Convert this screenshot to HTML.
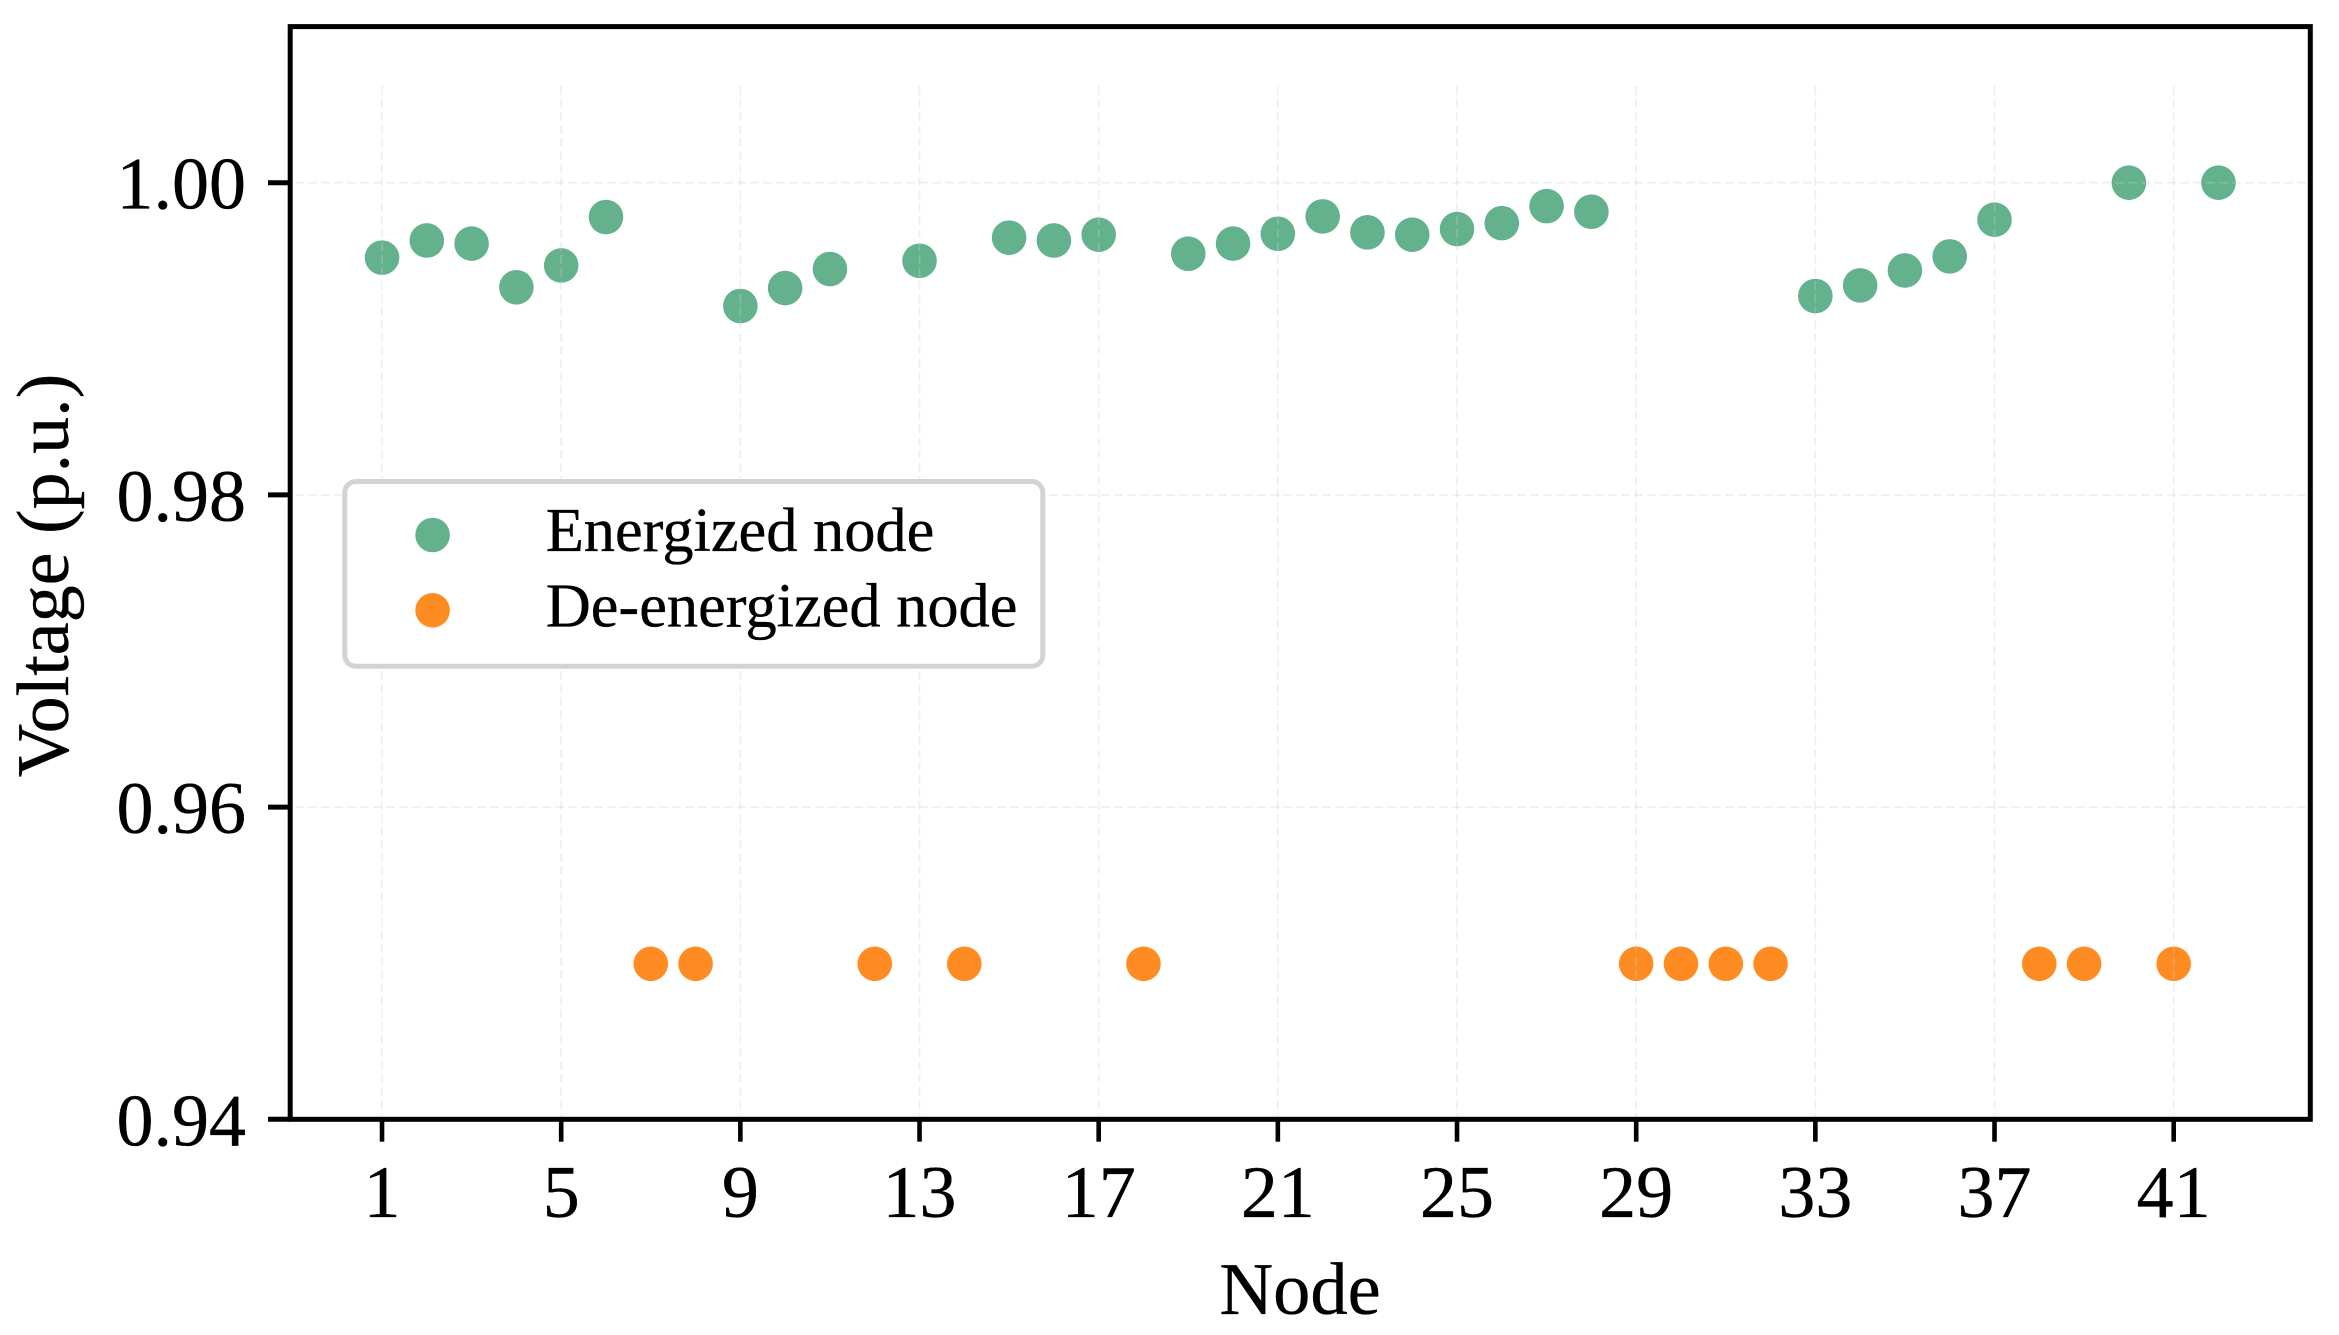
<!DOCTYPE html>
<html lang="en">
<head>
<meta charset="utf-8">
<title>Node voltage chart</title>
<style>
  html, body { margin: 0; padding: 0; background: #fff; }
  body { width: 2339px; height: 1335px; overflow: hidden; }
  svg { display: block; }
  text { font-family: "Liberation Serif", "Times New Roman", serif; fill: #000; stroke: #000; stroke-width: 0.35px; }
</style>
</head>
<body>
<svg id="chart" xmlns="http://www.w3.org/2000/svg" width="2339" height="1335" viewBox="0 0 2339 1335">
  <rect x="0" y="0" width="2339" height="1335" fill="#ffffff"/>
  <g id="series-energized"></g>
  <g id="series-deenergized"></g>
  <g id="grid"></g>
  <rect x="290.2" y="26.6" width="2020.1" height="1092.7" fill="none" stroke="#000" stroke-width="5"/>
  <g id="x-axis"></g>
  <g id="y-axis"></g>
  <text x="1300" y="1314" font-size="74.5" text-anchor="middle">Node</text>
  <text transform="translate(68,575.5) rotate(-90)" font-size="74" text-anchor="middle">Voltage (p.u.)</text>
  <g>
    <rect x="344.8" y="481.5" width="698" height="184.7" rx="11" ry="11" fill="#ffffff" stroke="#d3d3d3" stroke-width="5"/>
    <circle cx="432.6" cy="535" r="17.3" fill="#64B18E"/>
    <text x="545.7" y="551" font-size="62.4">Energized node</text>
    <circle cx="432.6" cy="610.3" r="17.3" fill="#FF8C22"/>
    <text x="545.7" y="626.7" font-size="62.4">De-energized node</text>
  </g>
</svg>
<script>
const energizedNodes = [1,2,3,4,5,6,9,10,11,13,15,16,17,19,20,21,22,23,24,25,26,27,28,33,34,35,36,37,40,42];
const energizedVoltages = [0.9952,0.9963,0.9961,0.9933,0.9947,0.9978,0.9921,0.99325,0.99447,0.9950,0.99648,0.9963,0.99667,0.99545,0.9961,0.99673,0.99784,0.99682,0.99667,0.99703,0.99741,0.9985,0.99814,0.99274,0.99342,0.99438,0.99528,0.99763,1.0,1.0];
const deEnergizedNodes = [7,8,12,14,18,29,30,31,32,38,39,41];
const deEnergizedVoltages = [0.95,0.95,0.95,0.95,0.95,0.95,0.95,0.95,0.95,0.95,0.95,0.95];
const xTickValues = [1,5,9,13,17,21,25,29,33,37,41];
const yTickValues = [0.94,0.96,0.98,1.00];
const yTickLabels = ["0.94","0.96","0.98","1.00"];

const plotLeft = 290.2, plotRight = 2310.3, plotTop = 26.6, plotBottom = 1119.3;
const xMin = -1.05, xMax = 44.05, yMin = 0.94, yMax = 1.01;
const SVG_NS = "http://www.w3.org/2000/svg";

function xScale(v) { return plotLeft + (v - xMin) / (xMax - xMin) * (plotRight - plotLeft); }
function yScale(v) { return plotBottom - (v - yMin) / (yMax - yMin) * (plotBottom - plotTop); }
function make(tag, attrs, parent) {
  const el = document.createElementNS(SVG_NS, tag);
  for (const k in attrs) el.setAttribute(k, attrs[k]);
  parent.appendChild(el);
  return el;
}

const gridLayer = document.getElementById("grid");
const xAxisLayer = document.getElementById("x-axis");
const yAxisLayer = document.getElementById("y-axis");
const energizedLayer = document.getElementById("series-energized");
const deEnergizedLayer = document.getElementById("series-deenergized");
const gridStyle = { stroke: "rgba(205,205,205,0.35)", "stroke-width": 1.6, "stroke-dasharray": "9 4" };

energizedNodes.forEach(function (n, i) {
  const dot = make("circle", { cx: xScale(n), cy: yScale(energizedVoltages[i]), r: 17.3, fill: "#64B18E" }, energizedLayer);
  
  
});

deEnergizedNodes.forEach(function (n, i) {
  const dot = make("circle", { cx: xScale(n), cy: yScale(deEnergizedVoltages[i]) + 0.6, r: 17.3, fill: "#FF8C22" }, deEnergizedLayer);
  
  
});

xTickValues.forEach(function (t) {
  const x = xScale(t);
  const line = make("line", Object.assign({ x1: x, x2: x, y1: 86, y2: plotBottom - 3 }, gridStyle), gridLayer);
  
  
  const tick = make("line", { x1: x, x2: x, y1: plotBottom, y2: 1141.7, stroke: "#000", "stroke-width": 4.6 }, xAxisLayer);
  
  
  const label = make("text", { x: x, y: 1217, "font-size": 74, "text-anchor": "middle" }, xAxisLayer);
  label.textContent = String(t);
  
  
});

yTickValues.forEach(function (t, i) {
  const y = yScale(t);
  if (t > yMin) {
    const line = make("line", Object.assign({ x1: 295, x2: 2306, y1: y, y2: y }, gridStyle), gridLayer);
    
    
  }
  const tick = make("line", { x1: 268, x2: plotLeft, y1: y, y2: y, stroke: "#000", "stroke-width": 5 }, yAxisLayer);
  
  
  const label = make("text", { x: 246, y: y + 26, "font-size": 74, "text-anchor": "end" }, yAxisLayer);
  label.textContent = yTickLabels[i];
  
  
});
</script>
</body>
</html>
